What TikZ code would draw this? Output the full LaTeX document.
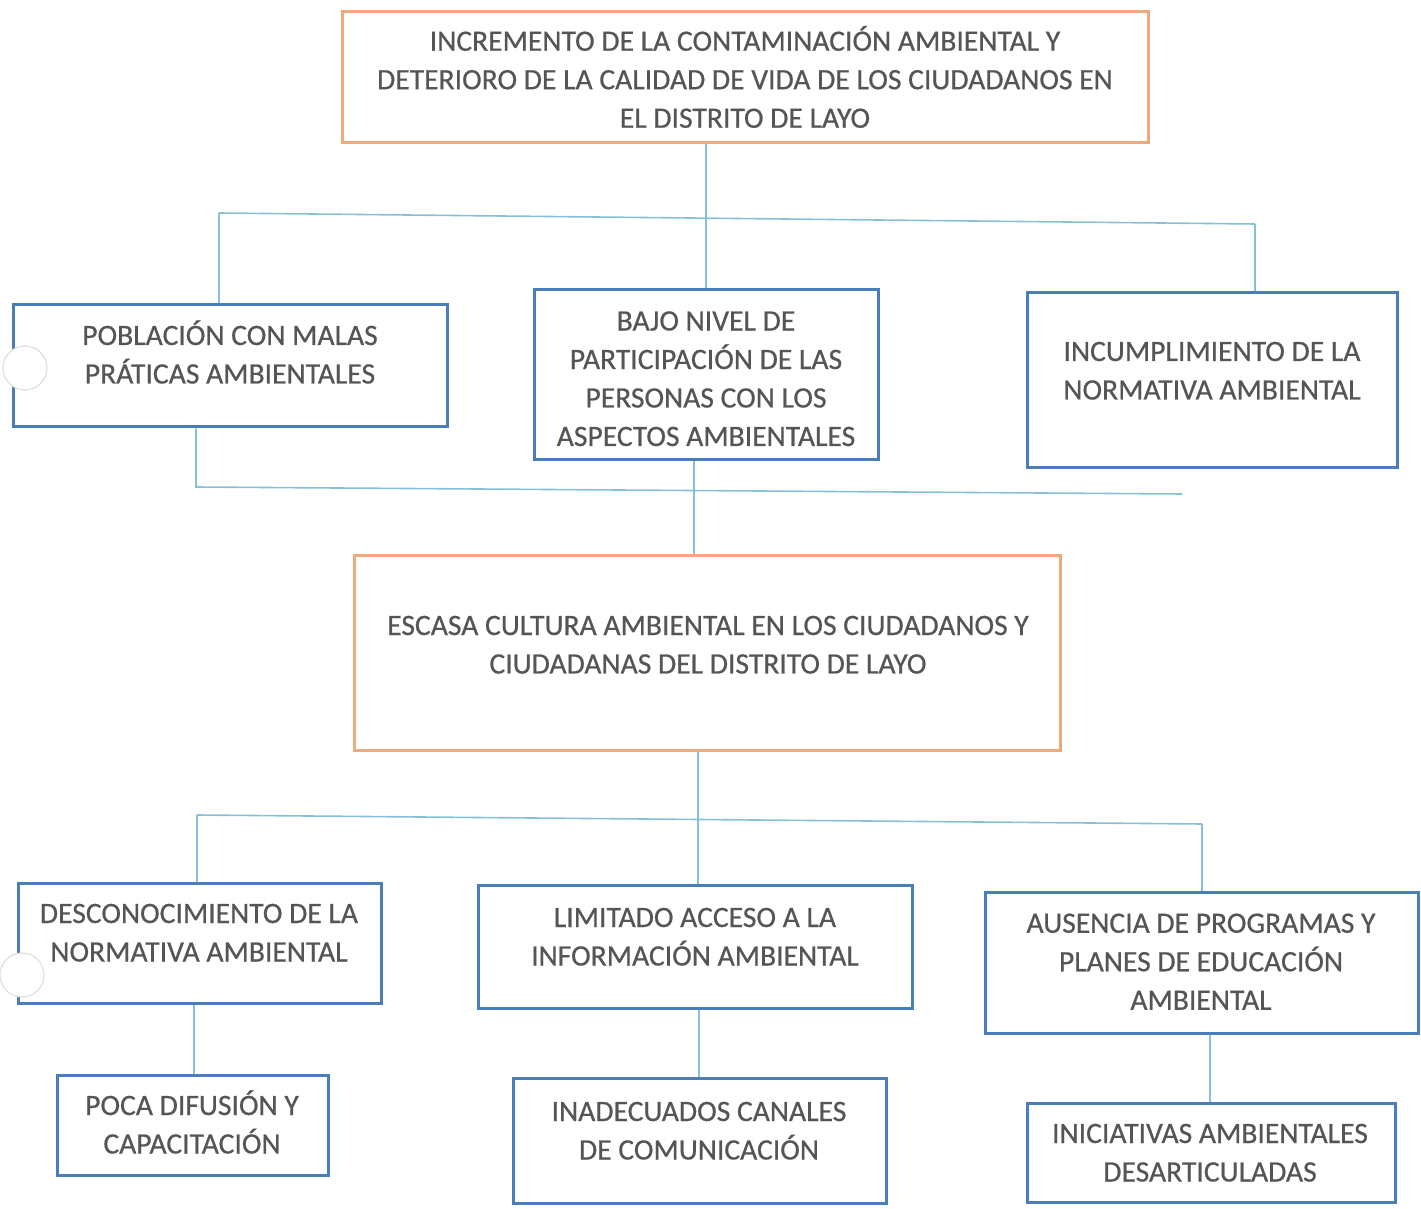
\documentclass[tikz,border=0pt]{standalone}
\usepackage{fontspec}
\setmainfont{Carlito}
\newfontfamily\tfam{Carlito}[FakeBold=0.6]
\usetikzlibrary{fit,calc}
\definecolor{tg}{HTML}{555555}
\definecolor{boxblue}{HTML}{4A7EBB}
\definecolor{boxorange}{HTML}{F2A97A}
\definecolor{connblue}{HTML}{86C1D9}
\newcommand\zs{\rule[-5pt]{0pt}{19.25pt}}
\begin{document}
\begin{tikzpicture}[x=0.5pt,y=-0.5pt,
  bbox/.style={draw=boxblue,line width=1.5pt,inner sep=0pt,rectangle},
  obox/.style={draw=boxorange,line width=1.5pt,inner sep=0pt,rectangle},
  txt/.style={align=center,text=tg,inner sep=0pt,font=\tfam\fontsize{14.8}{19.25}\selectfont},
  conn/.style={draw=connblue,line width=0.8pt},
  hole/.style={circle,fill=white,draw=gray!25,line width=0.6pt,minimum size=22pt,inner sep=0pt}]
\useasboundingbox (0,0) rectangle (1421,1209);
% boxes
\node[obox,fit={(342,12) (1148,143)}] (top) {};
\node[bbox,fit={(13,305) (447,427)}] (pob) {};
\node[bbox,fit={(534,290) (878,460)}] (bajo) {};
\node[bbox,fit={(1027,293) (1397,468)}] (inc) {};
\node[obox,fit={(354,556) (1060,750)}] (esc) {};
\node[bbox,fit={(18,883) (381,1003)}] (desc) {};
\node[bbox,fit={(478,885) (912,1008)}] (lim) {};
\node[bbox,fit={(985,892) (1418,1033)}] (aus) {};
\node[bbox,fit={(57,1075) (328,1175)}] (poca) {};
\node[bbox,fit={(513,1078) (886,1203)}] (inad) {};
\node[bbox,fit={(1027,1103) (1395,1202)}] (inic) {};
% texts
\node[txt] (t1) at (745,80) {\zs INCREMENTO DE LA CONTAMINACIÓN AMBIENTAL Y\\\zs DETERIORO DE LA CALIDAD DE VIDA DE LOS CIUDADANOS EN\\\zs EL DISTRITO DE LAYO};
\node[txt] (t2) at (230,355) {\zs POBLACIÓN CON MALAS\\\zs PRÁTICAS AMBIENTALES};
\node[txt] (t3) at (706,379) {\zs BAJO NIVEL DE\\\zs PARTICIPACIÓN DE LAS\\\zs PERSONAS CON LOS\\\zs ASPECTOS AMBIENTALES};
\node[txt] (t4) at (1212,371) {\zs INCUMPLIMIENTO DE LA\\\zs NORMATIVA AMBIENTAL};
\node[txt] (t5) at (708,645) {\zs ESCASA CULTURA AMBIENTAL EN LOS CIUDADANOS Y\\\zs CIUDADANAS DEL DISTRITO DE LAYO};
\node[txt] (t6) at (199,933) {\zs DESCONOCIMIENTO DE LA\\\zs NORMATIVA AMBIENTAL};
\node[txt] (t7) at (695,937) {\zs LIMITADO ACCESO A LA\\\zs INFORMACIÓN AMBIENTAL};
\node[txt] (t8) at (1201,962) {\zs AUSENCIA DE PROGRAMAS Y\\\zs PLANES DE EDUCACIÓN\\\zs AMBIENTAL};
\node[txt] (t9) at (192,1125) {\zs POCA DIFUSIÓN Y\\\zs CAPACITACIÓN};
\node[txt] (t10) at (699,1131) {\zs INADECUADOS CANALES\\\zs DE COMUNICACIÓN};
\node[txt] (t11) at (1210,1153) {\zs INICIATIVAS AMBIENTALES\\\zs DESARTICULADAS};
% connectors
\coordinate (b1l) at (219,213);
\coordinate (b1r) at (1255,224);
\draw[conn] (b1l) -- (b1r);
\draw[conn] (b1l) -- (b1l |- pob.north);
\draw[conn] (b1r) -- (b1r |- inc.north);
\draw[conn] (top.south -| bajo.north) -- (bajo.north);
\coordinate (b2l) at (196,487);
\coordinate (b2r) at (1182,494);
\draw[conn] (b2l |- pob.south) -- (b2l) -- (b2r);
\coordinate (v2) at (694,0);
\draw[conn] (bajo.south -| v2) -- (esc.north -| v2);
\coordinate (v3) at (698,0);
\draw[conn] (esc.south -| v3) -- (lim.north -| v3);
\coordinate (b3l) at (197,815);
\coordinate (b3r) at (1202,824);
\draw[conn] (b3l) -- (b3r);
\draw[conn] (b3l) -- (b3l |- desc.north);
\draw[conn] (b3r) -- (b3r |- aus.north);
\coordinate (v4) at (194,0);
\draw[conn] (desc.south -| v4) -- (poca.north -| v4);
\coordinate (v5) at (699,0);
\draw[conn] (lim.south -| v5) -- (inad.north -| v5);
\coordinate (v6) at (1210,0);
\draw[conn] (aus.south -| v6) -- (inic.north -| v6);
% punch holes
\node[hole] (h1) at (25,368) {};
\node[hole] (h2) at (22,975) {};
\end{tikzpicture}
\end{document}
